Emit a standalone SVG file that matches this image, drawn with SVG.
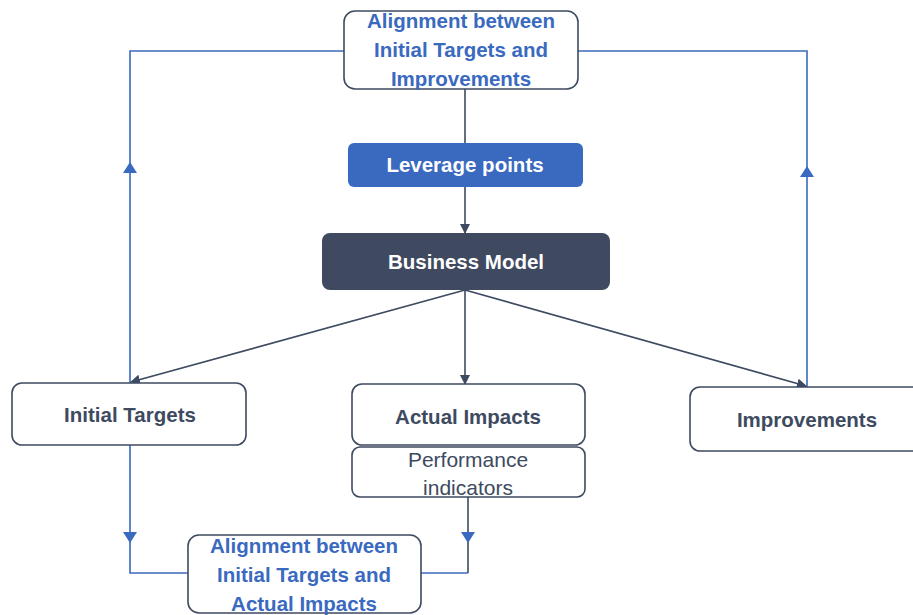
<svg xmlns="http://www.w3.org/2000/svg" width="913" height="615" viewBox="0 0 913 615">
  <style>
    .box { fill: #ffffff; stroke: #3d4a60; stroke-width: 1.6; }
    .lbl { font-family: "Liberation Sans", Arial, sans-serif; font-weight: bold; font-size: 20.5px; fill: #3d4a60; text-anchor: middle; }
    .blue { fill: #3a6abf; }
    .white { fill: #ffffff; }
    .reg { font-family: "Liberation Sans", Arial, sans-serif; font-size: 21px; fill: #3d4a60; text-anchor: middle; }
    .dk { fill: none; stroke: #3d4a60; stroke-width: 1.6; }
    .bl { fill: none; stroke: #3a6abf; stroke-width: 1.6; }
    .tri-bl { fill: #3a6abf; }
  </style>
  <defs>
    <marker id="arrDark" viewBox="0 0 10 10" refX="9" refY="5" markerWidth="10" markerHeight="10" markerUnits="userSpaceOnUse" orient="auto">
      <path d="M0,0 L10,5 L0,10 z" fill="#3d4a60"/>
    </marker>
  </defs>

  <!-- connectors -->
  <g id="connectors">
    <!-- feedback loops to the top alignment box -->
    <path class="bl" d="M130,383 V51 H344"/>
    <path class="tri-bl" d="M123,173 L137,173 L130,162 z"/>
    <path class="bl" d="M807,387 V51 H578"/>
    <path class="tri-bl" d="M800,177 L814,177 L807,166 z"/>
    <!-- central chain -->
    <line class="dk" x1="465" y1="89" x2="465" y2="143"/>
    <line class="dk" x1="465" y1="187" x2="465" y2="233" marker-end="url(#arrDark)"/>
    <line class="dk" x1="465" y1="290" x2="131" y2="382" marker-end="url(#arrDark)"/>
    <line class="dk" x1="465" y1="290" x2="465" y2="384" marker-end="url(#arrDark)"/>
    <line class="dk" x1="465" y1="290" x2="806" y2="386" marker-end="url(#arrDark)"/>
    <!-- loops to the bottom alignment box -->
    <path class="bl" d="M130,445 V573 H188"/>
    <path class="tri-bl" d="M123,532 L137,532 L130,543 z"/>
    <path class="dk" d="M468,497 V573"/>
    <path class="bl" d="M468,573 H421"/>
    <path class="tri-bl" d="M461,532 L475,532 L468,543 z"/>
  </g>

  <g id="align-top">
    <rect class="box" x="344" y="11" width="234" height="78" rx="11"/>
    <text class="lbl blue" x="461" y="28">Alignment between</text>
    <text class="lbl blue" x="461" y="57">Initial Targets and</text>
    <text class="lbl blue" x="461" y="86">Improvements</text>
  </g>

  <g id="leverage">
    <rect x="348" y="143" width="235" height="44" rx="6" fill="#3a6abf"/>
    <text class="lbl white" x="465" y="172">Leverage points</text>
  </g>

  <g id="business-model">
    <rect x="322" y="233" width="288" height="57" rx="8" fill="#3f4a60"/>
    <text class="lbl white" x="466" y="269">Business Model</text>
  </g>

  <g id="initial-targets">
    <rect class="box" x="12" y="383" width="234" height="62" rx="10"/>
    <text class="lbl" x="130" y="422">Initial Targets</text>
  </g>

  <g id="actual-impacts">
    <rect class="box" x="352" y="384" width="233" height="61" rx="10"/>
    <text class="lbl" x="468" y="424">Actual Impacts</text>
  </g>

  <g id="performance-indicators">
    <rect class="box" x="352" y="447" width="233" height="50" rx="8"/>
    <text class="reg" x="468" y="467">Performance</text>
    <text class="reg" x="468" y="495">indicators</text>
  </g>

  <g id="improvements">
    <rect class="box" x="690" y="387" width="240" height="64" rx="10"/>
    <text class="lbl" x="807" y="427">Improvements</text>
  </g>

  <g id="align-bottom">
    <rect class="box" x="188" y="535" width="233" height="78" rx="11"/>
    <text class="lbl blue" x="304" y="553">Alignment between</text>
    <text class="lbl blue" x="304" y="582">Initial Targets and</text>
    <text class="lbl blue" x="304" y="611">Actual Impacts</text>
  </g>
</svg>
